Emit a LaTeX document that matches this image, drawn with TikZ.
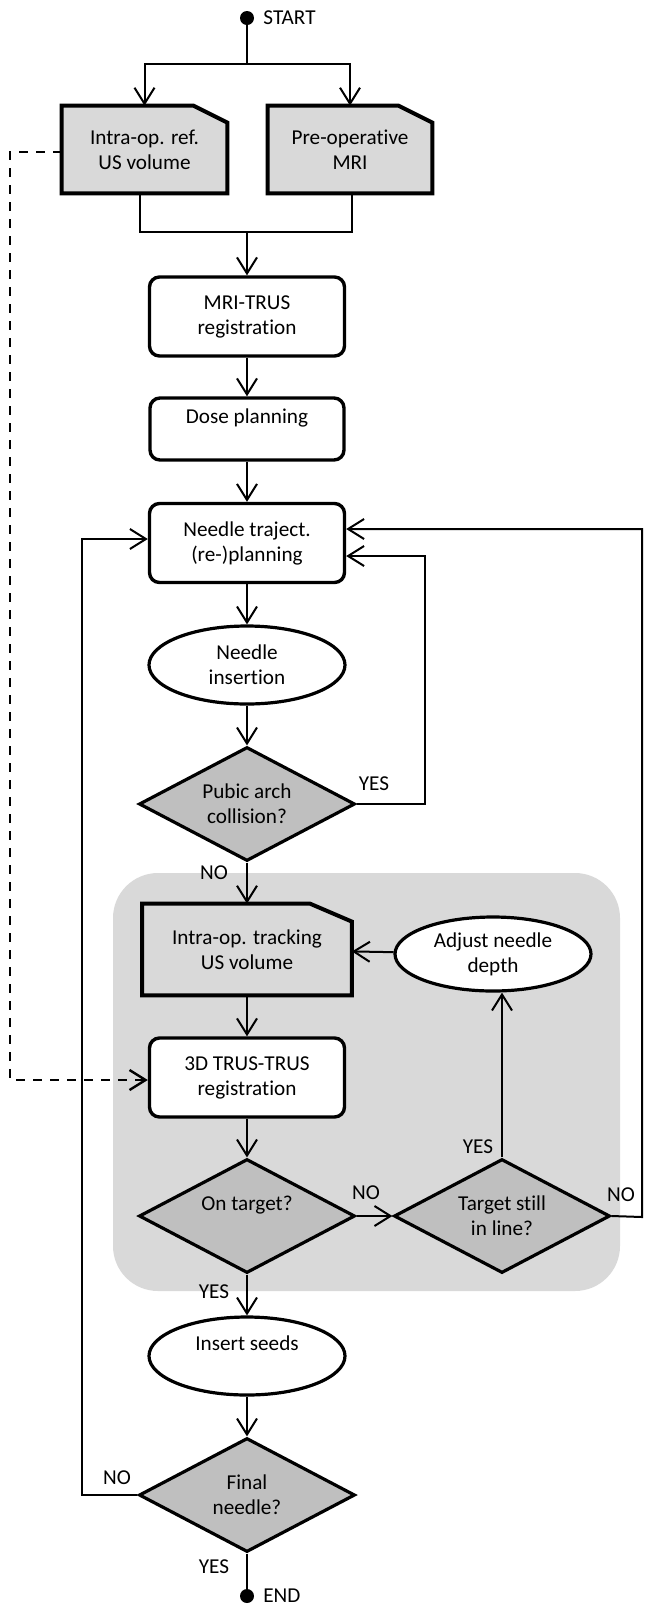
\documentclass[tikz,border=0pt]{standalone}
\usepackage{fontspec}
\setmainfont{Carlito}[Ligatures=NoCommon]
\usepackage{tikz}
\usetikzlibrary{arrows.meta,shapes,backgrounds}
\definecolor{lightg}{HTML}{D9D9D9}
\definecolor{darkg}{HTML}{BFBFBF}
\begin{document}
\begin{tikzpicture}[x=0.5pt,y=-0.5pt,>={Straight Barb[length=8pt,width=10pt]},font=\fontsize{10.6}{12.5}\selectfont]
	\tikzstyle{Box} = [draw,fill=white,rounded corners=5pt,line width=1.7pt,align=center,minimum width=97.5pt,minimum height=39.5pt,inner sep=0pt]
	\tikzstyle{Doc} = [align=center,inner sep=0pt]
	\tikzstyle{Ell} = [draw,ellipse,fill=white,line width=1.6pt,align=center,minimum width=98pt,minimum height=39pt,inner sep=0pt]
	\tikzstyle{Dec} = [draw,diamond,fill=darkg,line width=1.6pt,align=center,minimum width=108pt,minimum height=57pt,inner sep=0pt,aspect=1.9]
	\tikzstyle{term} = [fill,shape=circle,minimum size=7pt,inner sep=0pt]
	\tikzstyle{lab} = [inner sep=0pt]
	\tikzstyle{con} = [line width=1pt]
	\def\docpath#1#2#3{\draw[fill=lightg,line width=2pt] (#1.south west) -- (#1.north west) -- ([xshift=-#2]#1.north east) -- ([yshift=-#3]#1.north east) -- (#1.south east) -- cycle;}
	\useasboundingbox (0,0) rectangle (644,1607);
	\node[term](st) at (247,18) {};
	\node[lab,anchor=west](stl) at ([xshift=8pt]st.center) {START};
	\node[Doc,minimum width=82.5pt,minimum height=43.5pt](ref) at (144.5,149.5) {Intra-op. ref.\\US volume};
	\node[Doc,minimum width=82pt,minimum height=43.5pt](mri) at (350,149.5) {Pre-operative\\MRI};
	\node[Box](reg) at (247,316.5) {MRI-TRUS\\registration};
	\node[Box,below of=reg,node distance=56.25pt,minimum width=97pt,minimum height=31pt](dose) {Dose planning\\\mbox{}};
	\node[Box,below of=dose,node distance=57pt](plan) {Needle traject.\\(re-)planning};
	\node[Ell,below of=plan,node distance=61pt](ins) {Needle\\insertion};
	\node[Dec,below of=ins,node distance=69.5pt](pub) {Pubic arch\\collision?};
	\node[Doc,below of=pub,node distance=72.75pt,minimum width=104.5pt,minimum height=45.5pt](trk) {Intra-op. tracking\\US volume};
	\node[Ell,right of=trk,node distance=123pt,yshift=-2.25pt,minimum height=37pt](adj) {Adjust needle\\depth};
	\node[Box,below of=trk,node distance=64pt](tt) {3D TRUS-TRUS\\registration};
	\node[Dec,below of=tt,node distance=69.25pt](ont) {On target?\\\mbox{}};
	\node[Dec,right of=ont,node distance=127.5pt](still) {Target still\\in line?};
	\node[Ell,below of=ont,node distance=70pt](seed) {Insert seeds\\\mbox{}};
	\node[Dec,below of=seed,node distance=69.5pt](fin) {Final\\needle?};
	\node[term,below of=fin,node distance=50.5pt](en) {};
	\node[lab,anchor=west](enl) at ([xshift=8pt]en.center) {END};
	\begin{scope}[on background layer]
		\fill[lightg,rounded corners=22.5pt] (113,873) rectangle (620,1291);
		\docpath{ref}{17pt}{8.5pt}
		\docpath{mri}{17pt}{8.5pt}
		\docpath{trk}{21pt}{9pt}
	\end{scope}
	\coordinate (j1) at (247,64);
	\coordinate (j2) at (247,232);
	\draw[con] (st) -- (j1);
	\draw[con,->] (j1) -| (ref);
	\draw[con,->] (j1) -| (mri);
	\draw[con] ([xshift=-2.25pt]ref.south) |- (j2) -| ([xshift=1pt]mri.south);
	\draw[con,->] (j2) -- (reg);
	\draw[con,->] (reg) -- (dose);
	\draw[con,->] (dose) -- (plan);
	\draw[con,->] (plan) -- (ins);
	\draw[con,->] (ins) -- (pub);
	\draw[con,->] (pub) -- (trk);
	\draw[con,->] (trk) -- (tt);
	\draw[con,->] (tt) -- (ont);
	\draw[con,->] (ont) -- (seed);
	\draw[con,->] (seed) -- (fin);
	\draw[con] (fin) -- (en);
	\draw[con,->] (ont) -- (still);
	\draw[con,->] (adj) -- (trk);
	\draw[con,->] (still.north) -- (still.north |- adj.south);
	%\draw[con,->] (still) -- (adj);
	\coordinate (r1) at (425,804);
	\draw[con,->] (pub.east) -- (r1) |- ([yshift=-6.5pt]plan.east);
	\coordinate (r2) at (642,1217);
	\draw[con,->] (still.east) -- (r2) |- ([yshift=7pt]plan.east);
	\coordinate (l1) at (82,1495);
	\draw[con,->] (fin.west) -- (l1) |- ([yshift=2pt]plan.west);
	\coordinate (d1) at (10,152);
	\draw[con,line width=1.2pt,dash pattern=on 4.5pt off 4pt,->] ([yshift=-1.25pt]ref.west) -- (d1) |- ([yshift=-1.25pt]tt.west);
	\node[lab](y1) at (374,784) {YES};
	\node[lab](n1) at (214,873) {NO};
	\node[lab](n2) at (366,1193) {NO};
	\node[lab](y2) at (478,1147) {YES};
	\node[lab](n3) at (621,1195) {NO};
	\node[lab](y3) at (214,1292) {YES};
	\node[lab](n4) at (117,1478) {NO};
	\node[lab](y4) at (214,1567) {YES};
\end{tikzpicture}
\end{document}
